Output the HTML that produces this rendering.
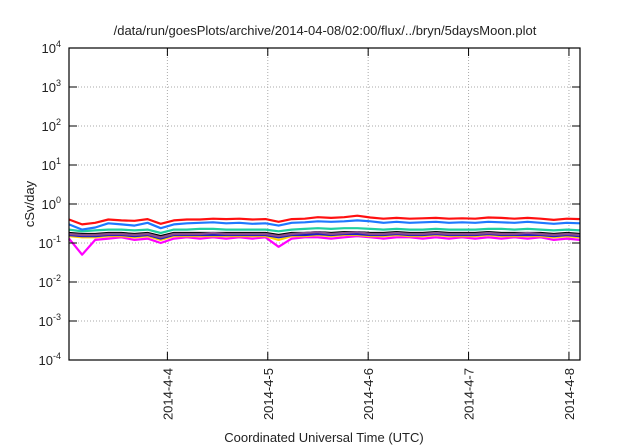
<!DOCTYPE html>
<html><head><meta charset="utf-8"><style>
body{margin:0;background:#fff;width:640px;height:448px;overflow:hidden}
svg{display:block;font-family:"Liberation Sans",sans-serif}
</style></head><body>
<svg id="chart" width="640" height="448">
<text x="325" y="35" font-size="13" text-anchor="middle" fill="#222">/data/run/goesPlots/archive/2014-04-08/02:00/flux/../bryn/5daysMoon.plot</text>
<text x="324" y="442" font-size="13" text-anchor="middle" fill="#222">Coordinated Universal Time (UTC)</text>
<text transform="translate(34,204) rotate(-90)" font-size="13" text-anchor="middle" fill="#222">cSv/day</text>
<g id="grid"></g><g id="series"></g><g id="axes"></g>
</svg>
<script>
const yTickExps=[-4,-3,-2,-1,0,1,2,3,4];
const xTickDays=[4,5,6,7,8];
const xTickLabels=["2014-4-4","2014-4-5","2014-4-6","2014-4-7","2014-4-8"];
const xStart=3.02, xEnd=8.11;
const seriesColors=["#ff00ff","#ffd000","#1a1acc","#000000","#8b4f8b","#20d0a0","#1e78ff","#ff1010"];
const seriesNames=["magenta","yellow","navy","black","purple","green","blue","red"];
const magenta=[0.13,0.05,0.12,0.13,0.14,0.12,0.13,0.10,0.13,0.14,0.13,0.14,0.13,0.14,0.13,0.14,0.08,0.13,0.14,0.14,0.13,0.14,0.15,0.14,0.13,0.14,0.14,0.13,0.14,0.13,0.14,0.13,0.14,0.13,0.14,0.13,0.14,0.12,0.13,0.12];
const yellow=[0.15,0.14,0.14,0.15,0.15,0.14,0.15,0.12,0.15,0.15,0.15,0.15,0.15,0.15,0.15,0.15,0.12,0.15,0.15,0.16,0.15,0.16,0.16,0.15,0.15,0.16,0.15,0.15,0.16,0.15,0.15,0.15,0.16,0.15,0.15,0.15,0.15,0.14,0.15,0.14];
const navy=[0.16,0.15,0.15,0.16,0.16,0.15,0.16,0.13,0.16,0.16,0.16,0.16,0.16,0.16,0.16,0.16,0.14,0.16,0.16,0.17,0.16,0.17,0.17,0.16,0.16,0.17,0.16,0.16,0.17,0.16,0.16,0.16,0.17,0.16,0.16,0.16,0.16,0.15,0.16,0.15];
const black=[0.18,0.17,0.17,0.18,0.18,0.17,0.18,0.15,0.18,0.18,0.18,0.18,0.18,0.18,0.18,0.18,0.16,0.18,0.18,0.19,0.18,0.19,0.19,0.18,0.18,0.19,0.18,0.18,0.19,0.18,0.18,0.18,0.19,0.18,0.18,0.18,0.18,0.17,0.18,0.17];
const purple=[0.17,0.16,0.16,0.17,0.17,0.16,0.17,0.14,0.17,0.17,0.17,0.18,0.17,0.17,0.17,0.17,0.15,0.17,0.18,0.19,0.17,0.18,0.19,0.17,0.17,0.18,0.17,0.17,0.18,0.17,0.17,0.17,0.18,0.17,0.17,0.18,0.17,0.16,0.17,0.16];
const green=[0.22,0.20,0.21,0.22,0.22,0.21,0.22,0.18,0.22,0.22,0.23,0.23,0.22,0.22,0.22,0.22,0.20,0.22,0.23,0.24,0.23,0.24,0.24,0.23,0.22,0.23,0.22,0.22,0.23,0.22,0.22,0.22,0.23,0.23,0.22,0.23,0.22,0.21,0.22,0.21];
const blue=[0.30,0.22,0.25,0.32,0.30,0.28,0.33,0.24,0.30,0.32,0.33,0.34,0.32,0.33,0.31,0.32,0.28,0.33,0.34,0.36,0.35,0.36,0.38,0.36,0.33,0.35,0.33,0.34,0.35,0.33,0.34,0.33,0.35,0.34,0.33,0.35,0.33,0.31,0.33,0.32];
const red=[0.40,0.30,0.33,0.40,0.38,0.37,0.41,0.31,0.38,0.40,0.40,0.42,0.41,0.42,0.40,0.41,0.35,0.41,0.42,0.46,0.44,0.46,0.50,0.45,0.42,0.44,0.42,0.43,0.44,0.42,0.43,0.42,0.45,0.44,0.42,0.44,0.42,0.39,0.42,0.41];
const allSeries=[magenta,yellow,navy,black,purple,green,blue,red];
const L=69,R=580,T=48,B=360;
const NS="http://www.w3.org/2000/svg";
function xS(d){return L+(d-xStart)/(xEnd-xStart)*(R-L);}
function yS(v){return B-(Math.log10(v)+4)/8*(B-T);}
function mk(tag,attrs,parent){const e=document.createElementNS(NS,tag);for(const k in attrs)e.setAttribute(k,attrs[k]);parent.appendChild(e);return e;}
const grid=document.getElementById('grid'),axes=document.getElementById('axes'),sg=document.getElementById('series');
yTickExps.forEach(ex=>{
  const y=yS(Math.pow(10,ex));
  if(ex>-4&&ex<4){const g=mk('line',{x1:L,x2:R,y1:y,y2:y,stroke:'#aaa','stroke-dasharray':'1,2','stroke-width':1},grid);
  
  }
  mk('line',{x1:L,x2:L+8,y1:y,y2:y,stroke:'#000'},axes);
  mk('line',{x1:R,x2:R-8,y1:y,y2:y,stroke:'#000'},axes);
  const t=mk('text',{x:L-8,y:y+5,'font-size':13,'text-anchor':'end',fill:'#222'},axes);
  
  
  t.textContent='10';
  const s=mk('tspan',{dy:-6,'font-size':9},t);s.textContent=String(ex);
});
xTickDays.forEach((d,i)=>{
  const x=xS(d);
  const g=mk('line',{x1:x,x2:x,y1:T,y2:B,stroke:'#aaa','stroke-dasharray':'1,2'},grid);
  
  
  mk('line',{x1:x,x2:x,y1:B,y2:B-8,stroke:'#000'},axes);
  mk('line',{x1:x,x2:x,y1:T,y2:T+8,stroke:'#000'},axes);
  const t=mk('text',{transform:`translate(${x+5},368) rotate(-90)`,'font-size':13,'text-anchor':'end',fill:'#222'},axes);
  
  
  t.textContent=xTickLabels[i];
});
const fr=mk('rect',{x:L,y:T,width:R-L,height:B-T,fill:'none',stroke:'#000','stroke-width':1.2},axes);


allSeries.forEach((arr,si)=>{
  const n=arr.length;
  const pts=arr.map((v,i)=>xS(xStart+i/(n-1)*(xEnd-xStart)).toFixed(1)+','+yS(v).toFixed(1)).join(' ');
  const p=mk('polyline',{points:pts,fill:'none',stroke:seriesColors[si],'stroke-width':2.2,'stroke-linejoin':'round'},sg);
  
  
});
</script>
</body></html>
